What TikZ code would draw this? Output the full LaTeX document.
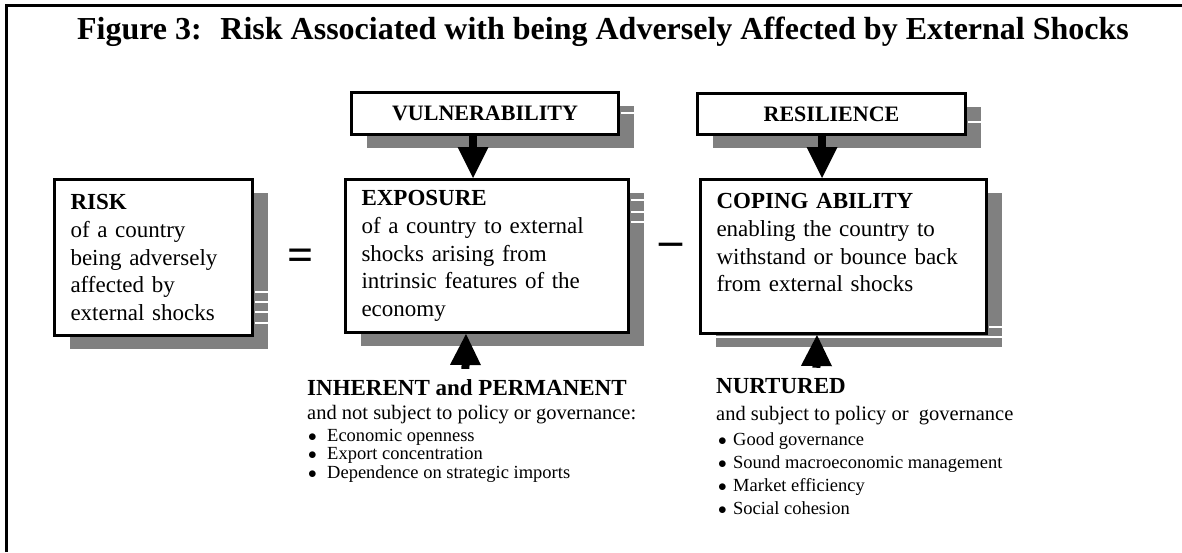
\documentclass[tikz,border=0pt]{standalone}
\usepackage{fontspec}
\setmainfont{Liberation Serif}
\usetikzlibrary{arrows.meta, shadows}

\definecolor{shadowgray}{RGB}{128,128,128}

\newcommand{\titlefont}{\fontsize{32}{36}\selectfont\bfseries}
\newcommand{\boxfont}{\fontsize{23}{27.7}\selectfont}
\newcommand{\notefont}{\fontsize{20.5}{24}\selectfont}
\newcommand{\itemfont}{\fontsize{18.5}{20}\selectfont}
\newcommand{\signfont}{\fontsize{46}{46}\selectfont\bfseries}

\tikzset{
  panel/.style={draw, line width=3pt, fill=white, align=left, inner xsep=16pt,
    font=\boxfont,
    drop shadow={shadow xshift=15pt, shadow yshift=-13pt, fill=shadowgray, opacity=1}},
  tag/.style={panel, align=center, inner xsep=4pt, font=\fontsize{22}{26}\selectfont\bfseries},
  blockarrow/.style={line width=8pt, -{Triangle[length=31pt, width=31pt, line width=0pt]}},
  stripe/.style={white, line width=1.5pt},
  plain/.style={inner sep=0pt, anchor=base west},
}

\begin{document}
\begin{tikzpicture}[x=1pt, y=-1pt]
  \useasboundingbox (0,0) rectangle (1182,552);
  \fill[white] (0,0) rectangle (1182,552);
  \draw[line width=3pt] (6,552) -- (6,5) -- (1182,5);

  \node[inner sep=0pt, anchor=base] (title) at (603,39)
    {\titlefont Figure 3:~ Risk Associated with being Adversely Affected by External Shocks};

  % main boxes
  \node[panel, minimum width=198pt, minimum height=156pt, text width=166pt] (risk) at (153.5,257.5)
    {\textbf{RISK}\\of a country\\being adversely\\affected by\\external shocks};
  \node[panel, minimum width=283pt, minimum height=153pt, text width=251pt] (expo) at (487,256)
    {\textbf{EXPOSURE}\\of a country to external\\shocks arising from\\intrinsic features of the\\economy};
  \node[panel, minimum width=286pt, minimum height=154pt, text width=254pt] (coping) at (843.5,256.5)
    {\textbf{COPING ABILITY}\\enabling the country to\\withstand or bounce back\\from external shocks\\\mbox{}};

  \node[tag, minimum width=267pt, minimum height=42pt] (vuln) at (485,113.5) {VULNERABILITY};
  \node[tag, minimum width=268pt, minimum height=41pt] (resil) at (831.5,114) {RESILIENCE};

  % white gaps in the shadows
  \foreach \y in {292,302,312,323} \draw[stripe] (255,\y) -- (270,\y);
  \foreach \y in {200,212,222} \draw[stripe] (631,\y) -- (647,\y);
  \draw[stripe] (989,327) -- (1004,327);
  \draw[stripe] (714,337) -- (1004,337);
  \draw[stripe] (621,113) -- (637,113);
  \draw[stripe] (968,122) -- (983,122);

  \node[inner sep=0pt, font=\signfont] (eq) at (301,260) {=};
  \node[inner sep=0pt, font=\signfont] (minus) at (671,249) {–};

  % what feeds each side
  \node[plain, font=\boxfont\bfseries] (inherent) at (307,395) {INHERENT and PERMANENT};
  \node[plain, font=\notefont] (inhnote) at (307,419) {and not subject to policy or governance:};
  \foreach \t [count=\i] in {Economic openness, Export concentration, Dependence on strategic imports}
    \node[plain, font=\itemfont] (inh\i) at (308,{422.5+18.5*\i}) {\makebox[19pt][l]{$\bullet$}\t};

  \node[plain, font=\boxfont\bfseries] (nurtured) at (716,393) {NURTURED};
  \node[plain, font=\notefont] (nurnote) at (716,420) {and subject to policy or~ governance};
  \foreach \t [count=\i] in {Good governance, Sound macroeconomic management, Market efficiency, Social cohesion}
    \node[plain, font=\itemfont] (nur\i) at (718,{422.5+23*\i}) {\makebox[15pt][l]{$\bullet$}\t};

  \draw[blockarrow] ([xshift=-12pt]vuln.south) -- ([xshift=-14pt]expo.north);
  \draw[blockarrow] ([xshift=-9.5pt]resil.south) -- ([xshift=-21.5pt]coping.north);
  \draw[blockarrow] ([xshift=-1.5pt, yshift=10pt]inherent.north) -- ([xshift=-21pt]expo.south);
  \draw[blockarrow] ([xshift=35.5pt, yshift=10pt]nurtured.north) -- ([xshift=-26.5pt]coping.south);
\end{tikzpicture}
\end{document}
